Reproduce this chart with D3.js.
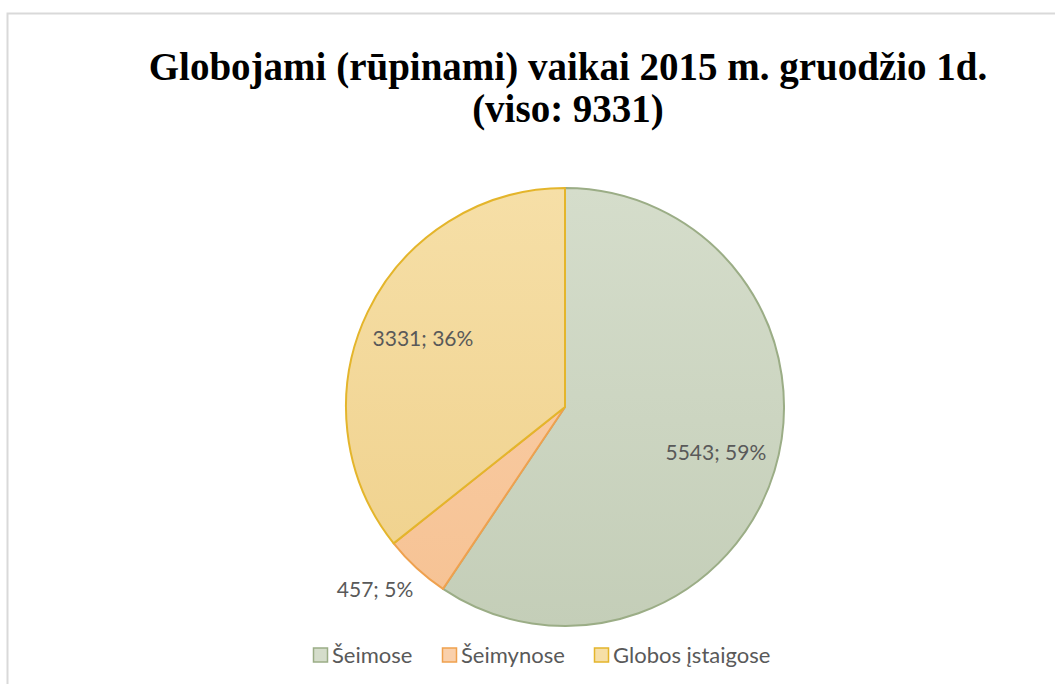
<!DOCTYPE html>
<html>
<head>
<meta charset="utf-8">
<script src="https://cdn.jsdelivr.net/npm/d3@7"></script>
<style>
  body { margin: 0; background: #fff; }
  svg { display: block; }
</style>
</head>
<body>
<div id="chart"></div>
<script>
// data
const categories = ["Šeimose", "Šeimynose", "Globos įstaigose"];
const values = [5543, 457, 3331];
const percents = ["59%", "5%", "36%"];
const titleLines = ["Globojami (rūpinami) vaikai 2015 m. gruodžio 1d.", "(viso: 9331)"];

const fillTop = ["#d5ddcb", "#fad0ab", "#f6dfa7"];
const fillBottom = ["#c4ceb8", "#f6c293", "#efd08a"];
const strokeColors = ["#9bad86", "#efa14e", "#e4b52b"];

const width = 1055, height = 684;
const cx = 565, cy = 407, radius = 219;

const svg = d3.select("#chart").append("svg")
  .attr("width", width)
  .attr("height", height);

// chart frame (runs off the right and bottom edge)
svg.append("rect")
  .attr("x", 7.5).attr("y", 13.5)
  .attr("width", 1200).attr("height", 800)
  .attr("fill", "#fff")
  .attr("stroke", "#d9d9d9")
  .attr("stroke-width", 2);

// gradients, relative to pie centre
const defs = svg.append("defs");
categories.forEach((c, i) => {
  const grad = defs.append("linearGradient")
    .attr("id", "grad" + i)
    .attr("gradientUnits", "userSpaceOnUse")
    .attr("x1", 0).attr("y1", -radius)
    .attr("x2", 0).attr("y2", radius);
  grad.append("stop").attr("offset", "0%").attr("stop-color", fillTop[i]);
  grad.append("stop").attr("offset", "100%").attr("stop-color", fillBottom[i]);
});

// title
const title = svg.append("text")
  .attr("x", 568)
  .attr("text-anchor", "middle")
  .style("font-family", "'Liberation Serif', 'Times New Roman', serif")
  .style("font-weight", "bold")
  .style("font-size", "39px")
  .attr("fill", "#000");
titleLines.forEach((t, i) => {
  title.append("tspan").attr("x", 568).attr("y", 80 + i * 42).text(t);
});

// pie
const pie = d3.pie().sort(null).value(d => d);
const arcs = pie(values);
const arc = d3.arc().innerRadius(0).outerRadius(radius);
const labelArc = d3.arc().innerRadius(radius * 0.72).outerRadius(radius * 0.72);
const outerArc = d3.arc().innerRadius(radius + 30).outerRadius(radius + 30);

const g = svg.append("g").attr("transform", `translate(${cx},${cy})`);

g.selectAll("path")
  .data(arcs)
  .join("path")
  .attr("d", arc)
  .attr("fill", (d, i) => `url(#grad${i})`)
  .attr("stroke", (d, i) => strokeColors[i])
  .attr("stroke-width", 2)
  .attr("stroke-linejoin", "round");

// labels (small slices go outside)
const isSmall = d => (d.endAngle - d.startAngle) < 0.5;
g.selectAll("text.lbl")
  .data(arcs)
  .join("text")
  .attr("class", "lbl")
  .attr("transform", d => {
    const p = isSmall(d) ? outerArc.centroid(d) : labelArc.centroid(d);
    return `translate(${p[0]},${p[1]})`;
  })
  .attr("dx", d => isSmall(d) ? 17 : 0)
  .attr("dy", "0.35em")
  .attr("text-anchor", d => isSmall(d) ? "end" : "middle")
  .style("font-family", "Lato, 'Open Sans', sans-serif")
  .style("font-size", "21px")
  .attr("fill", "#595959")
  .text((d, i) => values[i] + "; " + percents[i]);

// legend
const legendX = [313, 442, 594];
const legend = svg.append("g").attr("transform", "translate(0,655)");
const items = legend.selectAll("g")
  .data(categories)
  .join("g")
  .attr("transform", (d, i) => `translate(${legendX[i]},0)`);

items.append("rect")
  .attr("x", 0.5).attr("y", -7)
  .attr("width", 14).attr("height", 14)
  .attr("fill", (d, i) => fillTop[i])
  .attr("stroke", (d, i) => strokeColors[i])
  .attr("stroke-width", 1.5);

items.append("text")
  .attr("x", 19)
  .attr("dy", "0.35em")
  .style("font-family", "Lato, 'Open Sans', sans-serif")
  .style("font-size", "22px")
  .attr("fill", "#595959")
  .text(d => d);
</script>
</body>
</html>
